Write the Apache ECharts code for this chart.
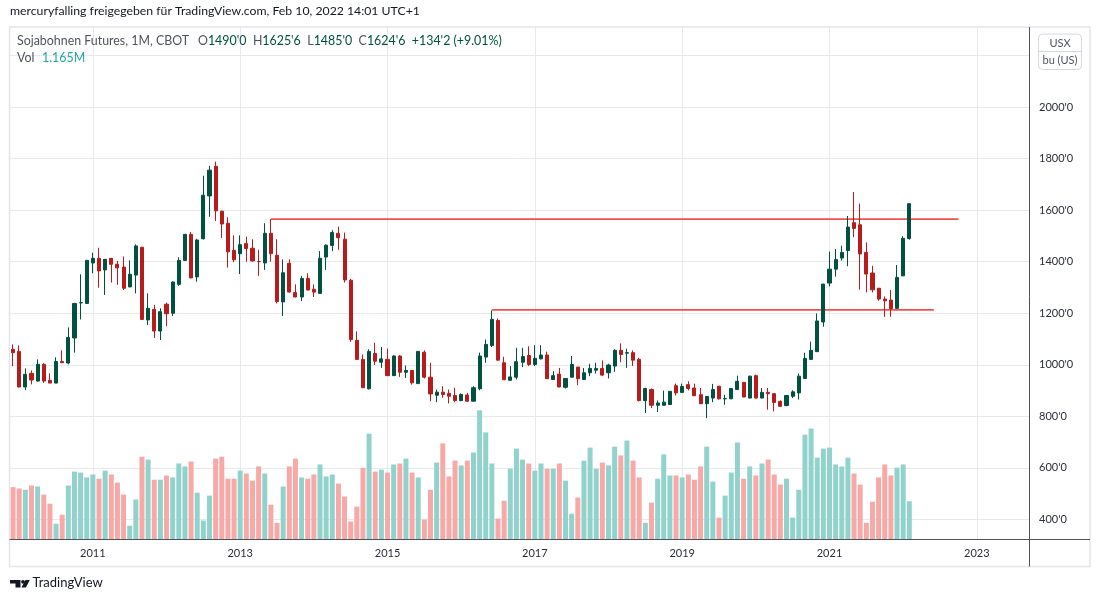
<!DOCTYPE html>
<html><head><meta charset="utf-8">
<script src="https://cdn.jsdelivr.net/npm/echarts@6/dist/echarts.min.js"></script>
<style>html,body{margin:0;padding:0;background:#fff}#c{width:1100px;height:602px}</style>
</head><body><div id="c"></div>
<script>
// ---- data ----
const firstMonth = [2009, 12];      // first candle
const lastAxisMonth = [2023, 9];    // axis extends to here
// monthly candles [open, close, low, high], Dec 2009 .. Feb 2022
const candles = [
 [1060,1047,995,1079],
 [1052,914,912,1075],[914,963,902,986],[967,941,924,978],[937,1002,935,1021],[1002,937,930,1006],[940,929,929,967],
 [929,1013,929,1029],[1013,1008,1008,1056],[1007,1106,1002,1145],[1104,1238,1047,1240],[1240,1241,1176,1351],[1238,1405,1236,1407],
 [1395,1413,1355,1435],[1413,1364,1299,1454],[1368,1409,1271,1410],[1413,1390,1319,1414],[1390,1376,1310,1403],[1379,1297,1290,1420],
 [1302,1351,1301,1405],[1348,1461,1277,1467],[1456,1176,1175,1457],[1174,1219,1154,1277],[1215,1131,1104,1232],[1131,1206,1096,1219],
 [1235,1198,1150,1241],[1200,1321,1189,1324],[1312,1405,1306,1417],[1405,1506,1404,1507],[1506,1337,1336,1515],[1341,1484,1322,1489],
 [1489,1658,1486,1733],[1655,1755,1574,1772],[1770,1597,1558,1788],[1596,1546,1492,1597],[1549,1438,1377,1572],[1444,1407,1398,1502],
 [1431,1466,1352,1502],[1470,1451,1400,1497],[1452,1403,1400,1487],[1401,1400,1345,1446],[1395,1510,1368,1549],[1510,1431,1400,1565],
 [1425,1245,1238,1487],[1244,1357,1189,1409],[1394,1282,1281,1409],[1280,1263,1262,1312],[1263,1335,1247,1345],[1335,1290,1289,1355],
 [1293,1282,1263,1312],[1277,1413,1276,1441],[1418,1464,1368,1467],[1463,1513,1441,1522],[1510,1493,1446,1536],[1487,1329,1319,1513],
 [1328,1098,1089,1333],[1095,1021,1020,1130],[1021,911,910,1040],[907,1052,904,1060],[1044,1014,999,1085],[1010,1023,988,1069],
 [1021,958,957,1063],[958,1034,957,1037],[1034,971,953,1037],[971,978,949,997],[978,930,923,979],[927,1052,926,1053],
 [1049,952,947,1056],[952,887,859,1008],[882,894,855,904],[894,885,872,917],[889,878,850,904],[881,861,855,911],
 [861,885,859,889],[883,859,857,891],[859,911,858,917],[907,1034,901,1047],[1030,1079,1008,1098],[1075,1176,1069,1211],
 [1172,1018,1017,1180],[1008,942,941,1031],[940,953,939,995],[952,1012,943,1066],[1010,1032,991,1066],[1036,1001,995,1072],
 [1001,1025,995,1076],[1023,1038,1021,1076],[1038,946,945,1051],[943,958,942,975],[964,914,913,988],[913,947,908,948],
 [952,1001,951,1034],[991,946,921,992],[943,969,942,988],[969,986,956,1004],[979,986,966,1008],[986,960,956,1017],
 [969,999,947,1004],[995,1056,973,1060],[1056,1040,1010,1083],[1045,1047,988,1062],[1047,1018,995,1056],[1021,861,858,1027],
 [861,908,813,911],[904,843,832,908],[843,852,817,862],[843,855,842,900],[846,897,845,898],[919,891,881,927],
 [893,916,891,927],[923,908,901,936],[910,880,879,927],[884,849,848,910],[849,877,793,878],[871,904,855,926],
 [917,868,865,918],[868,869,845,884],[868,908,867,909],[904,936,903,958],[932,875,874,933],[871,956,870,958],
 [958,871,869,962],[871,893,870,910],[893,888,826,910],[888,854,819,889],[858,839,836,862],[842,881,839,882],
 [878,895,871,901],[891,956,865,966],[947,1025,946,1047],[1021,1056,1020,1090],[1051,1170,1050,1199],[1166,1313,1148,1314],
 [1317,1371,1304,1439],[1371,1408,1342,1449],[1414,1436,1404,1462],[1443,1534,1382,1577],[1551,1529,1495,1670],[1543,1430,1291,1625],
 [1436,1352,1281,1475],[1356,1291,1281,1384],[1297,1255,1248,1298],[1255,1248,1186,1265],[1251,1218,1186,1290],[1219,1339,1218,1387],
 [1345,1490.5,1344,1499],[1490,1624.75,1485,1625.75]
];
// monthly volume, millions of contracts
const volumes = [
 1.60,
 1.56,1.52,1.65,1.62,1.37,1.09,0.47,0.75,1.65,2.08,2.05,1.90,
 1.99,1.86,2.11,1.99,1.74,1.37,0.41,1.22,2.54,2.45,1.83,1.83,
 1.96,1.90,2.33,2.24,2.39,1.43,0.57,1.34,2.48,2.54,1.86,1.86,
 2.11,2.02,1.80,2.24,2.02,1.06,0.50,1.62,2.24,2.48,1.90,1.86,
 1.99,2.30,1.93,1.99,1.71,1.31,0.54,1.00,2.20,3.25,2.08,2.14,
 2.05,2.30,2.33,2.48,2.05,1.90,0.60,1.52,2.36,2.95,1.93,2.42,
 2.27,2.42,2.67,3.97,3.29,2.33,0.63,1.18,2.17,2.79,2.45,2.33,
 2.11,2.33,2.17,2.17,2.33,1.80,0.78,1.28,2.42,2.82,2.17,2.36,
 2.27,2.85,2.58,3.04,2.42,1.90,0.50,1.12,1.86,2.61,1.96,1.96,
 1.90,1.99,1.83,2.24,2.85,1.77,0.66,1.34,2.05,2.98,1.86,2.24,
 1.96,2.33,2.45,1.99,1.68,1.86,0.66,1.52,3.22,3.41,2.51,2.79,
 2.82,2.30,2.24,2.51,2.02,1.68,0.50,1.15,1.90,2.30,1.96,2.20,
 2.30,1.165
];
const priceTicks = [400, 600, 800, 1000, 1200, 1400, 1600, 1800, 2000];
const levels = [
 { from: '2013-06', to: '2022-10', value: 1565 },
 { from: '2016-06', to: '2022-06', value: 1213 }
];
const symbolName = 'Sojabohnen Futures, 1M, CBOT';
const titleText = 'mercuryfalling freigegeben für TradingView.com, Feb 10, 2022 14:01 UTC+1';

// ---- derived ----
const months = [];
{
  let y = firstMonth[0], m = firstMonth[1];
  while (y < lastAxisMonth[0] || (y === lastAxisMonth[0] && m <= lastAxisMonth[1])) {
    months.push(y + '-' + String(m).padStart(2, '0'));
    m++; if (m > 12) { m = 1; y++; }
  }
}
const UP = '#00513f', DOWN = '#b71c1c';
const VUP = '#92d2cc', VDOWN = '#f7a9a7';
const GRID = '#e9e9ec', AXIS = '#50535e', TXT = '#2a2e39';
const FONT = 'Lato';
const fmtPrice = v => { const f = Math.floor(v); return f + "'" + Math.round((v - f) * 8); };
const isYearTick = (i, val) => val.endsWith('-01') && (+val.slice(0, 4)) % 2 === 1;

const volData = volumes.map((v, i) => ({
  value: v, itemStyle: { color: candles[i][1] >= candles[i][0] ? VUP : VDOWN }
}));
const last = candles[candles.length - 1], prev = candles[candles.length - 2];
const chg = last[1] - prev[1];
const chgPct = (chg / prev[1] * 100).toFixed(2);
const ohlcText = '{g|O}{v|' + fmtPrice(last[0]) + '}{s|}{g|H}{v|' + fmtPrice(last[3]) + '}{s|}{g|L}{v|' +
  fmtPrice(last[2]) + '}{s|}{g|C}{v|' + fmtPrice(last[1]) + '}{s|}{v|+' + fmtPrice(chg) + ' (+' + chgPct + '%)}';

const lineSeries = levels.map(l => ({
  type: 'line', xAxisIndex: 1, yAxisIndex: 1, z: 2,
  data: [[months.indexOf(l.from), l.value], [months.indexOf(l.to), l.value]],
  symbol: 'none', silent: true,
  lineStyle: { color: '#f23c3c', width: 1.8, opacity: 0.9 }
}));

const chart = echarts.init(document.getElementById('c'), null, { renderer: 'canvas' });
const G = { left: 10, right: 71 };
const LF = '12.4px ' + FONT;
chart.setOption({
  animation: false,
  backgroundColor: '#ffffff',
  textStyle: { fontFamily: FONT },
  grid: [
    { left: G.left, right: G.right, top: 27, bottom: 63 },
    { left: G.left, right: G.right, top: 55.4, bottom: 82.5 }
  ],
  xAxis: [
    { type: 'category', gridIndex: 0, data: months, boundaryGap: true,
      axisLine: { show: false }, axisTick: { show: false },
      axisLabel: { interval: isYearTick, formatter: v => v.slice(0, 4), color: TXT, fontSize: 11, margin: 9, fontFamily: FONT },
      splitLine: { show: true, interval: isYearTick, alignWithLabel: true, lineStyle: { color: GRID, width: 1 } } },
    { type: 'category', gridIndex: 1, data: months, boundaryGap: true, show: false }
  ],
  yAxis: [
    { type: 'value', gridIndex: 0, min: 0, max: 15.8, show: false, splitLine: { show: false } },
    { type: 'value', gridIndex: 1, position: 'right', min: 400, max: 2200, interval: 200,
      axisLine: { show: false }, axisTick: { show: false },
      axisLabel: { formatter: v => priceTicks.includes(v) ? v + "'0" : '', color: TXT, fontSize: 11, margin: 10, fontFamily: FONT },
      splitLine: { show: true, lineStyle: { color: GRID, width: 1 } } }
  ],
  series: [
    { type: 'bar', xAxisIndex: 0, yAxisIndex: 0, data: volData, barWidth: 5, z: 1, silent: true },
    ...lineSeries,
    { type: 'candlestick', xAxisIndex: 1, yAxisIndex: 1, data: candles, barWidth: 3.6, z: 3,
      itemStyle: { color: UP, color0: DOWN, borderColor: UP, borderColor0: DOWN, borderWidth: 1 } }
  ],
  graphic: [
    // frame
    { type: 'rect', z: 50, silent: true, shape: { x: 9.5, y: 27, width: 1080.5, height: 539.5 }, style: { fill: 'none', stroke: '#e3e5ec', lineWidth: 1.5 } },
    { type: 'line', z: 51, silent: true, shape: { x1: 9.5, y1: 539.5, x2: 1090, y2: 539.5 }, style: { stroke: AXIS, lineWidth: 1 } },
    { type: 'line', z: 51, silent: true, shape: { x1: 1029.5, y1: 27, x2: 1029.5, y2: 566.5 }, style: { stroke: AXIS, lineWidth: 1 } },
    // title
    { type: 'text', z: 60, left: 10, top: 5, style: { text: titleText, fill: '#131722', font: '12.25px ' + FONT } },
    // legend
    { type: 'text', z: 60, left: 17, top: 34.5, style: { text: symbolName, fill: '#50535e', font: LF } },
    { type: 'text', z: 60, left: 198, top: 34.5, style: { text: ohlcText, rich: {
        g: { fill: '#50535e', font: LF }, v: { fill: UP, font: LF }, s: { width: 6.5, font: LF } } } },
    { type: 'text', z: 60, left: 17, top: 51.5, style: { text: 'Vol', fill: '#50535e', font: LF } },
    { type: 'text', z: 60, left: 42, top: 51.5, style: { text: volumes[volumes.length - 1].toFixed(3) + 'M', fill: '#26a69a', font: LF } },
    // unit box
    { type: 'rect', z: 60, silent: true, shape: { x: 1038.5, y: 34, width: 43, height: 35.5, r: 4 }, style: { fill: '#fff', stroke: '#d6d8df', lineWidth: 1 } },
    { type: 'line', z: 61, silent: true, shape: { x1: 1038.5, y1: 51.5, x2: 1081.5, y2: 51.5 }, style: { stroke: '#d6d8df', lineWidth: 1 } },
    { type: 'text', z: 62, x: 1060, y: 43, style: { text: 'USX', fill: '#50535e', font: '11px ' + FONT, textAlign: 'center', textVerticalAlign: 'middle' } },
    { type: 'text', z: 62, x: 1060, y: 60.5, style: { text: 'bu (US)', fill: '#50535e', font: '11px ' + FONT, textAlign: 'center', textVerticalAlign: 'middle' } },
    // footer logo
    { type: 'polygon', z: 60, silent: true, shape: { points: [[10,580],[20.5,580],[20.5,587.5],[15.5,587.5],[15.5,583.5],[10,583.5]] }, style: { fill: '#131722' } },
    { type: 'circle', z: 60, silent: true, shape: { cx: 23, cy: 581.8, r: 1.9 }, style: { fill: '#131722' } },
    { type: 'polygon', z: 60, silent: true, shape: { points: [[25.5,580],[29.8,580],[25.8,587.5],[21.5,587.5]] }, style: { fill: '#131722' } },
    { type: 'text', z: 60, left: 32.5, top: 576, style: { text: 'TradingView', fill: '#131722', font: '13px ' + FONT } }
  ]
});
</script></body></html>
